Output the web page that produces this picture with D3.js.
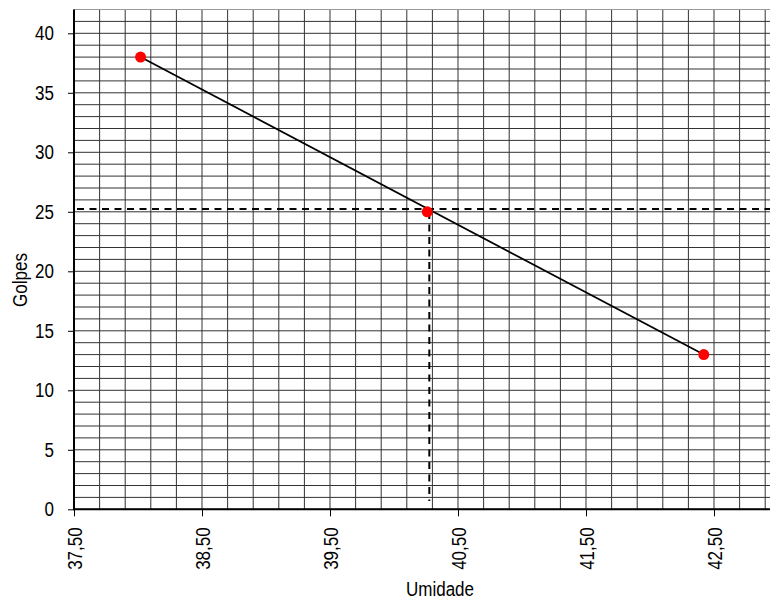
<!DOCTYPE html>
<html><head><meta charset="utf-8">
<script src="https://cdn.jsdelivr.net/npm/d3@7"></script>
<style>
html,body{margin:0;padding:0;background:#fff;}
text{font-family:"Liberation Sans",Arial,sans-serif;}
</style></head>
<body>
<svg id="c" width="770" height="601"></svg>
<script>
// data
const umidade = [38.02, 40.26, 42.42];
const golpes = [38, 25, 13];
const trendX = [38.02, 42.42];
const trendY = [38, 13];
const refX = 40.276;
const refY = 25.23;
const xTicks = [37.5, 38.5, 39.5, 40.5, 41.5, 42.5];
const yTicks = [0, 5, 10, 15, 20, 25, 30, 35, 40];

const svg = d3.select("#c");
const x = d3.scaleLinear().domain([37.5, 43]).range([74, 778]);
const y = d3.scaleLinear().domain([0, 42]).range([509.3, 9.5]);

// grid
const vGrid = d3.range(0, 28).map(i => 37.5 + i * 0.2);
const hGrid = d3.range(0, 43);
const g = svg.append("g");
g.selectAll(".v").data(vGrid).enter().append("line")
  .attr("x1", d => x(d)).attr("x2", d => x(d))
  .attr("y1", y(42)).attr("y2", y(0))
  .attr("stroke", "#333").attr("stroke-width", 1);
g.selectAll(".h").data(hGrid).enter().append("line")
  .attr("x1", x(37.5)).attr("x2", 778)
  .attr("y1", d => y(d)).attr("y2", d => y(d))
  .attr("stroke", d => d === 42 ? "#999" : "#333").attr("stroke-width", 1);

// axes
const fmt = d => d.toFixed(2).replace(".", ",");
const xAxis = svg.append("g").attr("transform", `translate(0,${y(0)})`)
  .call(d3.axisBottom(x).tickValues(xTicks).tickSize(7).tickFormat(fmt));
xAxis.select(".domain").remove();
xAxis.selectAll(".tick line").attr("stroke", "#000");
xAxis.selectAll(".tick text")
  .attr("class", "narrow")
  .attr("transform", "rotate(-90)")
  .attr("text-anchor", "end")
  .attr("x", -18).attr("y", 0).attr("dy", "0.35em")
  .attr("font-size", 20).attr("fill", "#000");

const yAxis = svg.append("g").attr("transform", `translate(${x(37.5)},0)`)
  .call(d3.axisLeft(y).tickValues(yTicks).tickSize(6).tickPadding(14));
yAxis.select(".domain").remove();
yAxis.selectAll(".tick line").attr("stroke", "#000");
yAxis.selectAll(".tick text").attr("class", "narrow").attr("font-size", 20).attr("fill", "#000");

// axis lines
svg.append("line").attr("x1", x(37.5)).attr("x2", x(37.5))
  .attr("y1", y(42)).attr("y2", y(0)).attr("stroke", "#000").attr("stroke-width", 2);
svg.append("line").attr("x1", x(37.5) - 1).attr("x2", 778)
  .attr("y1", y(0)).attr("y2", y(0)).attr("stroke", "#000").attr("stroke-width", 2);

// reference dashed lines
svg.append("line").attr("x1", x(37.5) + 3).attr("x2", 778)
  .attr("y1", y(refY)).attr("y2", y(refY))
  .attr("stroke", "#000").attr("stroke-width", 2).attr("stroke-dasharray", "7,5.5");
svg.append("line").attr("x1", x(refX)).attr("x2", x(refX))
  .attr("y1", y(refY) + 3).attr("y2", y(0.7))
  .attr("stroke", "#000").attr("stroke-width", 2).attr("stroke-dasharray", "7,5.5");

// trend line
const line = d3.line().x(d => x(d[0])).y(d => y(d[1]));
svg.append("path").datum(trendX.map((d, i) => [d, trendY[i]]))
  .attr("d", line).attr("fill", "none").attr("stroke", "#000").attr("stroke-width", 1.75);

// points
svg.selectAll(".pt").data(umidade.map((d, i) => [d, golpes[i]])).enter().append("circle")
  .attr("cx", d => x(d[0])).attr("cy", d => y(d[1])).attr("r", 5.5).attr("fill", "#ff0000");

// labels
svg.append("text").attr("class", "narrow").attr("x", 440).attr("y", 596).attr("text-anchor", "middle")
  .attr("font-size", 20).text("Umidade");
svg.append("text").attr("class", "narrow").attr("transform", "translate(27,280) rotate(-90)").attr("text-anchor", "middle")
  .attr("font-size", 20).text("Golpes");

// condensed look
svg.selectAll("text.narrow").each(function() {
  const w = this.getComputedTextLength();
  d3.select(this).attr("textLength", w * 0.85).attr("lengthAdjust", "spacingAndGlyphs");
});
</script>
</body></html>
